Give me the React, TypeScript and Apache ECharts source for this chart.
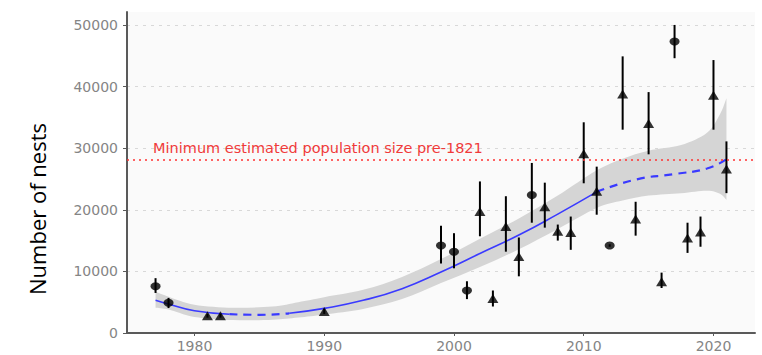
import React, { useEffect, useRef } from 'react';
import * as echarts from 'echarts';

// Observed counts (number of nests) with 95% intervals
const years = [1977, 1978, 1981, 1982, 1990, 1999, 2000, 2001, 2002, 2003, 2004, 2005, 2006, 2007, 2008, 2009, 2010, 2011, 2012, 2013, 2014, 2015, 2016, 2017, 2018, 2019, 2020, 2021];
const nests = [7600, 4900, 2800, 2800, 3500, 14200, 13200, 6900, 19700, 5600, 17300, 12400, 22400, 20500, 16500, 16300, 29100, 23000, 14200, 38800, 18500, 34000, 8300, 47300, 15400, 16400, 38600, 26600];
const lowerCI = [6500, 4050, 2500, 2500, 3100, 11300, 10500, 5500, 15700, 4300, 13200, 9200, 17900, 17100, 15000, 13500, 24300, 19200, 14000, 33000, 15800, 29000, 7300, 44600, 13000, 14000, 33000, 22700];
const upperCI = [8900, 5700, 3100, 3100, 3900, 17400, 16200, 8400, 24600, 6900, 22200, 15500, 27600, 24400, 17600, 18900, 34200, 27000, 14400, 44900, 21300, 39100, 9800, 50000, 17900, 18900, 44300, 31100];
const methods = ['c', 'c', 't', 't', 't', 'c', 'c', 'c', 't', 't', 't', 't', 'c', 't', 't', 't', 't', 't', 'c', 't', 't', 't', 't', 'c', 't', 't', 't', 't'];

// Smoothed trend
const fitYears = [1977, 1978, 1980, 1982.7, 1985, 1987.3, 1990, 1993, 1996, 1999, 2002, 2005, 2008, 2011, 2014, 2017, 2019.5, 2021];
const fitValues = [5300, 4700, 3600, 3050, 2950, 3200, 4000, 5300, 7200, 9900, 12900, 15900, 19300, 22900, 24900, 25800, 26700, 28200];
const fitSegments = [
  { from: 1977, to: 1982.7, dashed: false },
  { from: 1982.7, to: 1987.3, dashed: true },
  { from: 1987.3, to: 2011, dashed: false },
  { from: 2011, to: 2021, dashed: true },
];

// Confidence band of the trend
const bandYears = [1977, 1978, 1980, 1983, 1986, 1988, 1990, 1993, 1996, 1999, 2002, 2005, 2008, 2011, 2013, 2015, 2017.5, 2019.5, 2020.5, 2021];
const bandLower = [4100, 3800, 2600, 2100, 2150, 2500, 3000, 3900, 5500, 8100, 10700, 13600, 16900, 20300, 21500, 22300, 22700, 23100, 22600, 21600];
const bandUpper = [6700, 5900, 4600, 4100, 4300, 5000, 5800, 7000, 9100, 12000, 15300, 18600, 22300, 26400, 28300, 29600, 30500, 32500, 35500, 38100];

const xTicks = [1980, 1990, 2000, 2010, 2020];
const thresholdValue = 28100;
const thresholdLabel = 'Minimum estimated population size pre-1821';
const yTitle = 'Number of nests';

// Catmull-Rom spline through pixel points, as SVG path commands (no leading M)
function splineThrough(p: number[][]): string {
  let d = '';
  for (let i = 0; i < p.length - 1; i++) {
    const p0 = p[Math.max(0, i - 1)];
    const p1 = p[i];
    const p2 = p[i + 1];
    const p3 = p[Math.min(p.length - 1, i + 2)];
    const c1x = p1[0] + (p2[0] - p0[0]) / 6;
    const c1y = p1[1] + (p2[1] - p0[1]) / 6;
    const c2x = p2[0] - (p3[0] - p1[0]) / 6;
    const c2y = p2[1] - (p3[1] - p1[1]) / 6;
    d += ` C${c1x},${c1y} ${c2x},${c2y} ${p2[0]},${p2[1]}`;
  }
  return d;
}

export default function App() {
  const ref = useRef<HTMLDivElement>(null);

  useEffect(() => {
    if (!ref.current) return;
    const chart = echarts.init(ref.current, undefined, { renderer: 'svg' });

    const pts = years.map((y, i) => ({ y, v: nests[i], lo: lowerCI[i], hi: upperCI[i], m: methods[i] }));
    const circleData = pts.filter(p => p.m === 'c').map(p => [p.y, p.v]);
    const triData = pts.filter(p => p.m === 't').map(p => [p.y, p.v]);
    const barData = pts.map(p => [p.y, p.lo, p.hi]);
    const bandData = bandYears.map((y, i) => [y, bandLower[i], bandUpper[i]]);

    const fitSeries = fitSegments.map(seg => ({
      type: 'line',
      data: fitYears.map((y, i) => [y, fitValues[i]]).filter(d => d[0] >= seg.from && d[0] <= seg.to),
      smooth: 0.5,
      showSymbol: false,
      symbol: 'none',
      z: 3,
      lineStyle: seg.dashed
        ? { color: '#3a3aff', width: 2.2, type: [8, 6] }
        : { color: '#3a3aff', width: 1.6 },
    }));

    const axisFont = { color: '#858585', fontSize: 14, fontFamily: 'DejaVu Sans' };

    chart.setOption({
      animation: false,
      backgroundColor: '#ffffff',
      grid: {
        left: 127, right: 7, top: 12, bottom: 22,
        show: true, backgroundColor: '#fafafa', borderWidth: 0,
      },
      xAxis: {
        type: 'value',
        min: 1974.8,
        max: 2023.2,
        axisLine: { show: true, lineStyle: { color: '#5a5a5a', width: 2 } },
        axisTick: { show: true, length: 3, customValues: xTicks, lineStyle: { color: '#5a5a5a', width: 1 } },
        axisLabel: { ...axisFont, margin: 6, customValues: xTicks, formatter: (v: number) => String(v) },
        splitLine: { show: false },
      },
      yAxis: {
        type: 'value',
        min: 0,
        max: 52100,
        interval: 10000,
        axisLine: { show: true, lineStyle: { color: '#5a5a5a', width: 2 } },
        axisTick: { show: true, length: 4, lineStyle: { color: '#5a5a5a', width: 1 } },
        axisLabel: { ...axisFont, margin: 9, showMaxLabel: false, formatter: (v: number) => String(v) },
        splitLine: { show: true, showMaxLine: false, lineStyle: { color: '#d8d8d8', width: 1, type: [3, 5] } },
      },
      graphic: [
        {
          type: 'text',
          x: 37,
          y: 209,
          rotation: Math.PI / 2,
          style: {
            text: yTitle,
            fill: '#000000',
            font: '22px "Open Sans", "Liberation Sans", sans-serif',
            align: 'center',
            verticalAlign: 'middle',
          },
        },
      ],
      series: [
        {
          type: 'custom',
          data: bandData,
          encode: { x: 0, y: [1, 2] },
          z: 1,
          silent: true,
          renderItem: (params: any, api: any) => {
            if (params.dataIndex !== 0) return null;
            const upper = bandData.map(d => api.coord([d[0], d[2]]));
            const lower = bandData.map(d => api.coord([d[0], d[1]])).reverse();
            const d =
              `M${upper[0][0]},${upper[0][1]}` +
              splineThrough(upper) +
              ` L${lower[0][0]},${lower[0][1]}` +
              splineThrough(lower) +
              ' Z';
            return {
              type: 'path',
              shape: { pathData: d },
              style: { fill: '#d5d5d5', stroke: 'none' },
            };
          },
          markLine: {
            silent: true,
            symbol: ['none', 'none'],
            z: 6,
            data: [{ yAxis: thresholdValue }],
            lineStyle: { color: '#ff3333', width: 1.6, type: [2, 4] },
            label: {
              show: true,
              position: 'insideStartTop',
              formatter: thresholdLabel,
              color: '#f03a3a',
              fontSize: 14.5,
              fontFamily: 'DejaVu Sans',
              padding: [0, 0, 0, 22],
              distance: 4,
            },
          },
        },
        ...fitSeries,
        {
          type: 'custom',
          data: barData,
          encode: { x: 0, y: [1, 2] },
          z: 4,
          renderItem: (params: any, api: any) => {
            const x = api.value(0);
            const p1 = api.coord([x, api.value(1)]);
            const p2 = api.coord([x, api.value(2)]);
            return {
              type: 'line',
              shape: { x1: p1[0], y1: p1[1], x2: p2[0], y2: p2[1] },
              style: { stroke: '#000000', lineWidth: 2 },
            };
          },
        },
        {
          type: 'scatter',
          data: circleData,
          symbol: 'circle',
          symbolSize: [10, 8],
          itemStyle: { color: '#000000' },
          z: 5,
        },
        {
          type: 'scatter',
          data: triData,
          symbol: 'triangle',
          symbolSize: [11, 9],
          itemStyle: { color: '#000000' },
          z: 5,
        },
      ],
    });

    return () => chart.dispose();
  }, []);

  return <div ref={ref} style={{ position: 'absolute', left: 0, top: 0, width: 762, height: 355 }} />;
}
